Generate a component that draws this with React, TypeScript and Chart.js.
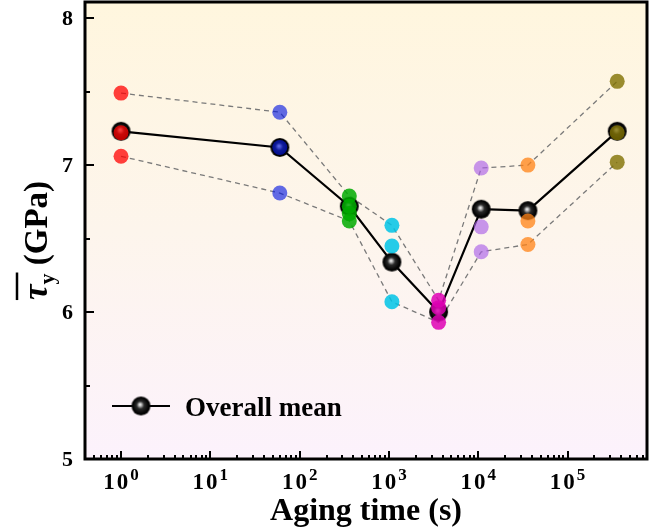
import React, { useEffect, useRef } from "react";
import { Chart, registerables } from "chart.js";

Chart.register(...registerables);

// ---- data ----
const agingTimes = [1, 60, 360, 1080, 3600, 10800, 36000, 360000];
const overallMean = [7.23, 7.12, 6.72, 6.34, 6.0, 6.7, 6.69, 7.23];
const redSamples = [7.49, 7.22, 7.06];
const blueSamples = [7.36, 7.12, 6.81];
const greenSamples = [6.79, 6.72, 6.67, 6.62];
const cyanSamples = [6.59, 6.45, 6.07];
const magentaSamples = [6.08, 6.03, 5.93];
const purpleSamples = [6.98, 6.58, 6.41];
const orangeSamples = [7.0, 6.62, 6.46];
const oliveSamples = [7.57, 7.22, 7.02];
const sampleGroups = [
  redSamples,
  blueSamples,
  greenSamples,
  cyanSamples,
  magentaSamples,
  purpleSamples,
  orangeSamples,
  oliveSamples,
];
const groupColors = [
  "rgba(255,0,0,0.75)",
  "rgba(0,20,225,0.62)",
  "rgba(0,170,0,0.85)",
  "rgba(0,195,230,0.85)",
  "rgba(222,0,180,0.85)",
  "rgba(170,95,232,0.65)",
  "rgba(255,130,20,0.75)",
  "rgba(128,112,0,0.8)",
];
const yTicks = [5, 6, 7, 8];
const yMinorTicks = [5.5, 6.5, 7.5];
const xTickExponents = [0, 1, 2, 3, 4, 5];
const xTitle = "Aging time (s)";
const legendLabel = "Overall mean";

const FONT = '"Liberation Serif", "Times New Roman", serif';

function makeSphere(r: number): HTMLCanvasElement {
  const c = document.createElement("canvas");
  const s = Math.ceil(2 * r + 2);
  c.width = s;
  c.height = s;
  const g = c.getContext("2d")!;
  const cx = s / 2;
  const cy = s / 2;
  const grad = g.createRadialGradient(cx - 1, cy - 1.5, 0, cx, cy, r);
  grad.addColorStop(0, "#ffffff");
  grad.addColorStop(0.12, "#cfcfcf");
  grad.addColorStop(0.4, "#2a2a2a");
  grad.addColorStop(0.85, "#000000");
  grad.addColorStop(1, "#111111");
  g.fillStyle = grad;
  g.beginPath();
  g.arc(cx, cy, r, 0, Math.PI * 2);
  g.fill();
  return c;
}

const bgPlugin = {
  id: "bgGradient",
  beforeDatasetsDraw(chart: any) {
    const { ctx, chartArea: a } = chart;
    const grad = ctx.createLinearGradient(0, a.top, 0, a.bottom);
    grad.addColorStop(0, "#fff6de");
    grad.addColorStop(0.5, "#fdf5ec");
    grad.addColorStop(1, "#fcf2fc");
    ctx.save();
    ctx.fillStyle = grad;
    ctx.fillRect(a.left, a.top, a.right - a.left, a.bottom - a.top);
    ctx.restore();
  },
};

const framePlugin = {
  id: "frameAxes",
  afterDraw(chart: any) {
    const { ctx, chartArea: a, scales } = chart;
    const xs = scales.x;
    const ys = scales.y;
    ctx.save();
    // frame
    ctx.strokeStyle = "#000";
    ctx.lineWidth = 3;
    ctx.strokeRect(a.left, a.top, a.right - a.left, a.bottom - a.top);

    // y ticks
    ctx.lineWidth = 2;
    ctx.beginPath();
    for (const v of yTicks) {
      const y = Math.round(ys.getPixelForValue(v));
      ctx.moveTo(a.left, y);
      ctx.lineTo(a.left + 9, y);
    }
    for (const v of yMinorTicks) {
      const y = Math.round(ys.getPixelForValue(v));
      ctx.moveTo(a.left, y);
      ctx.lineTo(a.left + 5, y);
    }
    ctx.stroke();

    // x ticks
    ctx.beginPath();
    const minE = Math.floor(Math.log10(xs.min));
    const maxE = Math.ceil(Math.log10(xs.max));
    for (let e = minE; e <= maxE; e++) {
      for (let m = 1; m <= 9; m++) {
        const v = m * Math.pow(10, e);
        if (v < xs.min || v > xs.max) continue;
        const x = Math.round(xs.getPixelForValue(v));
        ctx.moveTo(x, a.bottom);
        ctx.lineTo(x, a.bottom - (m === 1 ? 8 : 4));
      }
    }
    ctx.stroke();

    // y tick labels
    ctx.fillStyle = "#000";
    ctx.font = `bold 22px ${FONT}`;
    ctx.textAlign = "right";
    ctx.textBaseline = "middle";
    for (const v of yTicks) {
      ctx.fillText(String(v), a.left - 12, ys.getPixelForValue(v) + 1);
    }

    // x tick labels 10^k
    ctx.textBaseline = "alphabetic";
    ctx.textAlign = "left";
    for (const e of xTickExponents) {
      const x = xs.getPixelForValue(Math.pow(10, e));
      ctx.font = `bold 23px ${FONT}`;
      (ctx as any).letterSpacing = "2px";
      const wBase = ctx.measureText("10").width;
      ctx.font = `bold 17px ${FONT}`;
      (ctx as any).letterSpacing = "0px";
      const wExp = ctx.measureText(String(e)).width;
      const start = x - (wBase + wExp) / 2;
      ctx.font = `bold 23px ${FONT}`;
      (ctx as any).letterSpacing = "2px";
      ctx.fillText("10", start, a.bottom + 30);
      (ctx as any).letterSpacing = "0px";
      ctx.font = `bold 17px ${FONT}`;
      ctx.fillText(String(e), start + wBase, a.bottom + 21);
    }

    // x title
    ctx.font = `bold 32px ${FONT}`;
    ctx.textAlign = "center";
    ctx.fillText(xTitle, (a.left + a.right) / 2, a.bottom + 61);

    // y title: overline tau, subscript y, (GPa)
    ctx.save();
    ctx.translate(47, (a.top + a.bottom) / 2 + 10);
    ctx.rotate(-Math.PI / 2);
    ctx.textAlign = "left";
    ctx.font = `italic bold 35px ${FONT}`;
    const wTau = ctx.measureText("τ").width;
    ctx.font = `bold 22px ${FONT}`;
    const wSub = ctx.measureText("y").width;
    ctx.font = `bold 33px ${FONT}`;
    const wRest = ctx.measureText(" (GPa)").width;
    const total = wTau + wSub + wRest;
    const sx = -total / 2;
    ctx.font = `italic bold 35px ${FONT}`;
    ctx.fillText("τ", sx, 0);
    ctx.font = `bold 22px ${FONT}`;
    ctx.fillText("y", sx + wTau, 7);
    ctx.font = `bold 33px ${FONT}`;
    ctx.fillText(" (GPa)", sx + wTau + wSub, 0);
    ctx.lineWidth = 2.5;
    ctx.beginPath();
    ctx.moveTo(sx, -30);
    ctx.lineTo(sx + wTau + wSub + 1, -30);
    ctx.stroke();
    ctx.restore();

    // legend
    const lx = a.left + 27;
    const ly = a.bottom - 53;
    ctx.lineWidth = 2;
    ctx.beginPath();
    ctx.moveTo(lx, ly);
    ctx.lineTo(lx + 58, ly);
    ctx.stroke();
    const sp = (chart as any).$sphere as HTMLCanvasElement;
    if (sp) ctx.drawImage(sp, lx + 29 - sp.width / 2, ly - sp.height / 2);
    ctx.font = `bold 27px ${FONT}`;
    ctx.textAlign = "left";
    ctx.textBaseline = "alphabetic";
    ctx.fillText(legendLabel, lx + 73, ly + 10);
    ctx.restore();
  },
};

export default function App() {
  const ref = useRef<HTMLCanvasElement | null>(null);
  useEffect(() => {
    if (!ref.current) return;
    const sphere = makeSphere(9.5);
    const upper = sampleGroups.map((g, i) => ({ x: agingTimes[i], y: Math.max(...g) }));
    const lower = sampleGroups.map((g, i) => ({ x: agingTimes[i], y: Math.min(...g) }));
    const datasets: any[] = [];
    sampleGroups.forEach((g, i) => {
      datasets.push({
        label: "group" + i,
        data: g.map((v) => ({ x: agingTimes[i], y: v })),
        showLine: false,
        pointRadius: 7.5,
        pointBorderWidth: 0,
        pointBackgroundColor: groupColors[i],
        pointBorderColor: groupColors[i],
        order: 0,
      });
    });
    datasets.push({
      label: legendLabel,
      data: agingTimes.map((t, i) => ({ x: t, y: overallMean[i] })),
      borderColor: "#000",
      borderWidth: 2.2,
      pointStyle: sphere,
      pointRadius: 9.5,
      order: 1,
    });
    datasets.push({
      label: "upper",
      data: upper,
      borderColor: "#7a7a7a",
      borderWidth: 1.3,
      borderDash: [5, 4],
      pointRadius: 0,
      order: 2,
    });
    datasets.push({
      label: "lower",
      data: lower,
      borderColor: "#7a7a7a",
      borderWidth: 1.3,
      borderDash: [5, 4],
      pointRadius: 0,
      order: 2,
    });

    const chart = new Chart(ref.current, {
      type: "line",
      data: { datasets },
      options: {
        responsive: false,
        animation: false,
        layout: { autoPadding: false, padding: { top: 2, right: 19, left: 0, bottom: 0 } },
        plugins: { legend: { display: false }, tooltip: { enabled: false } },
        scales: {
          x: {
            type: "logarithmic",
            min: 0.395,
            max: 776000,
            grid: { display: false },
            border: { display: false },
            ticks: { display: false },
            afterFit: (s: any) => {
              s.height = 72;
            },
          },
          y: {
            type: "linear",
            min: 5,
            max: 8.11,
            grid: { display: false },
            border: { display: false },
            ticks: { display: false },
            afterFit: (s: any) => {
              s.width = 85;
            },
          },
        },
      } as any,
      plugins: [bgPlugin, framePlugin],
    });
    (chart as any).$sphere = sphere;
    chart.draw();
    return () => chart.destroy();
  }, []);
  return (
    <div style={{ position: "fixed", left: 0, top: 0, width: 666, height: 531, background: "#fff" }}>
      <canvas ref={ref} width={666} height={531} style={{ display: "block" }} />
    </div>
  );
}
